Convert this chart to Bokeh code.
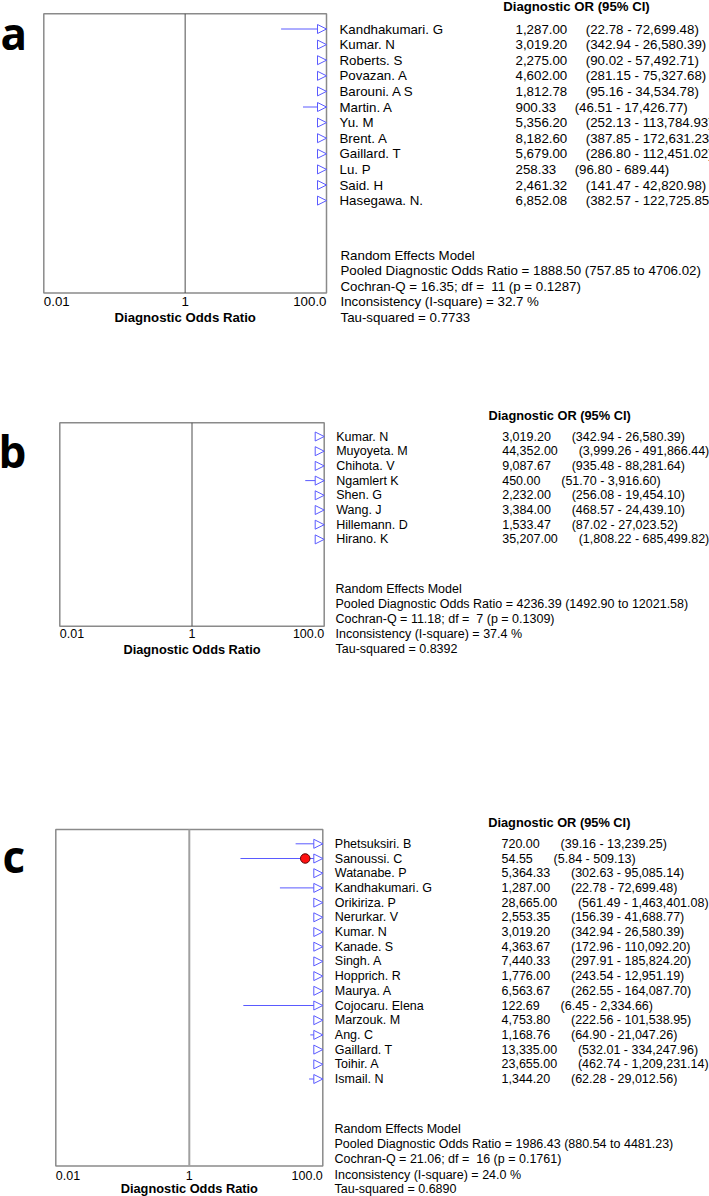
import numpy as np
from bokeh.plotting import figure
from bokeh.layouts import column
from bokeh.models import ColumnDataSource, LabelSet, Label, Arrow, NormalHead, Range1d
from bokeh.core.properties import value
from bokeh.embed import file_html
from bokeh.resources import INLINE

# ---------------- data ----------------
XMIN, XMAX = 0.01, 100.0
tick_values = [0.01, 1.0, 100.0]
tick_labels = ["0.01", "1", "100.0"]
axis_title = "Diagnostic Odds Ratio"
col_header = "Diagnostic OR (95% CI)"

a_names = ["Kandhakumari. G", "Kumar. N", "Roberts. S", "Povazan. A", "Barouni. A S", "Martin. A",
           "Yu. M", "Brent. A", "Gaillard. T", "Lu. P", "Said. H", "Hasegawa. N."]
a_or = [1287.00, 3019.20, 2275.00, 4602.00, 1812.78, 900.33, 5356.20, 8182.60, 5679.00, 258.33, 2461.32, 6852.08]
a_lo = [22.78, 342.94, 90.02, 281.15, 95.16, 46.51, 252.13, 387.85, 286.80, 96.80, 141.47, 382.57]
a_hi = [72699.48, 26580.39, 57492.71, 75327.68, 34534.78, 17426.77, 113784.93, 172631.23, 112451.02,
        689.44, 42820.98, 122725.85]
a_stats = ["Random Effects Model",
           "Pooled Diagnostic Odds Ratio = 1888.50 (757.85 to 4706.02)",
           "Cochran-Q = 16.35; df =\u00a0 11 (p = 0.1287)",
           "Inconsistency (I-square) = 32.7 %",
           "Tau-squared = 0.7733"]

b_names = ["Kumar. N", "Muyoyeta. M", "Chihota. V", "Ngamlert K", "Shen. G", "Wang. J", "Hillemann. D", "Hirano. K"]
b_or = [3019.20, 44352.00, 9087.67, 450.00, 2232.00, 3384.00, 1533.47, 35207.00]
b_lo = [342.94, 3999.26, 935.48, 51.70, 256.08, 468.57, 87.02, 1808.22]
b_hi = [26580.39, 491866.44, 88281.64, 3916.60, 19454.10, 24439.10, 27023.52, 685499.82]
b_stats = ["Random Effects Model",
           "Pooled Diagnostic Odds Ratio = 4236.39 (1492.90 to 12021.58)",
           "Cochran-Q = 11.18; df =\u00a0 7 (p = 0.1309)",
           "Inconsistency (I-square) = 37.4 %",
           "Tau-squared = 0.8392"]

c_names = ["Phetsuksiri. B", "Sanoussi. C", "Watanabe. P", "Kandhakumari. G", "Orikiriza. P", "Nerurkar. V",
           "Kumar. N", "Kanade. S", "Singh. A", "Hopprich. R", "Maurya. A", "Cojocaru. Elena", "Marzouk. M",
           "Ang. C", "Gaillard. T", "Toihir. A", "Ismail. N"]
c_or = [720.00, 54.55, 5364.33, 1287.00, 28665.00, 2553.35, 3019.20, 4363.67, 7440.33, 1776.00, 6563.67,
        122.69, 4753.80, 1168.76, 13335.00, 23655.00, 1344.20]
c_lo = [39.16, 5.84, 302.63, 22.78, 561.49, 156.39, 342.94, 172.96, 297.91, 243.54, 262.55, 6.45, 222.56,
        64.90, 532.01, 462.74, 62.28]
c_hi = [13239.25, 509.13, 95085.14, 72699.48, 1463401.08, 41688.77, 26580.39, 110092.20, 185824.20,
        12951.19, 164087.70, 2334.66, 101538.95, 21047.26, 334247.96, 1209231.14, 29012.56]
c_stats = ["Random Effects Model",
           "Pooled Diagnostic Odds Ratio = 1986.43 (880.54 to 4481.23)",
           "Cochran-Q = 21.06; df =\u00a0 16 (p = 0.1761)",
           "Inconsistency (I-square) = 24.0 %",
           "Tau-squared = 0.6890"]

# ---------------- style / layout ----------------
FONT = "Liberation Sans"
BLUE = "#5a5aff"
INK = "#000000"
W = 709


def fmt(v):
    return f"{v:,.2f}"


def panel(letter, names, ors, los, his, stats, L):
    n = len(names)
    rows = np.arange(n)
    top, H = L["top"], L["h"]
    Lx, Rx = L["L"], L["R"]
    dy = L["dy"]

    def ry(py):  # page y (px) -> row units
        return (py - L["row0"]) / dy

    k = 4.0 / (Rx - Lx)  # decades per px
    x_range = Range1d(10 ** (-2 - Lx * k), 10 ** (2 + (W - Rx) * k))
    y_range = Range1d(ry(top + H), ry(top))
    p = figure(width=W, height=H, x_axis_type="log", x_range=x_range, y_range=y_range,
               x_axis_location=None, y_axis_location=None, toolbar_location=None,
               output_backend="svg", min_border=0)
    p.min_border_left = p.min_border_right = p.min_border_top = p.min_border_bottom = 0
    p.grid.visible = False
    p.outline_line_color = None
    p.background_fill_color = "white"
    p.border_fill_color = "white"

    yt, yb = ry(L["T"]), ry(L["B"])
    # plot box
    p.quad(left=[XMIN], right=[XMAX], top=[yt], bottom=[yb], fill_color=None,
           line_color="#8a8a8a", line_width=1.5)
    # line of no effect
    p.segment(x0=[1.0], x1=[1.0], y0=[yt], y1=[yb], line_color=L["vcol"], line_width=L["vw"])

    los_a, his_a, ors_a = np.array(los), np.array(his), np.array(ors)
    src = ColumnDataSource(dict(row=rows, lo=np.clip(los_a, XMIN, XMAX), hi=np.clip(his_a, XMIN, XMAX)))
    p.segment(x0="lo", y0="row", x1="hi", y1="row", source=src, line_color=BLUE, line_width=1)

    inside = (ors_a >= XMIN) & (ors_a <= XMAX)
    if inside.any():
        p.scatter(x=ors_a[inside], y=rows[inside], marker="circle", size=9.5,
                  fill_color="#ff1010", line_color="#5a0000", line_width=1)

    over = his_a > XMAX
    asrc = ColumnDataSource(dict(xs=np.full(over.sum(), XMIN), xe=np.minimum(his_a[over], XMAX),
                                 y=rows[over]))
    p.add_layout(Arrow(x_start="xs", y_start="y", x_end="xe", y_end="y", source=asrc, line_alpha=0,
                       end=NormalHead(size=9, fill_color="white", line_color=BLUE, line_width=1)))

    fs = L["fs"]
    gap = "\u00a0" * L["gap"]
    txt = [f"{fmt(o)}{gap}({fmt(l)} - {fmt(h)})" for o, l, h in zip(ors, los, his)]
    tsrc = ColumnDataSource(dict(row=rows, name=names, txt=txt))
    common = dict(text_baseline="middle", text_align="left", text_font=value(FONT),
                  text_font_size=value(f"{fs}px"), text_color=INK)
    p.add_layout(LabelSet(x=XMAX, y="row", text="name", source=tsrc, x_offset=L["name_x"] - Rx, **common))
    p.add_layout(LabelSet(x=XMAX, y="row", text="txt", source=tsrc, x_offset=L["val_x"] - Rx, **common))

    p.add_layout(Label(x=XMAX, y=ry(L["head_y"]), x_offset=L["head_x"] - Rx, text=col_header,
                       text_font=FONT, text_font_style="bold", text_font_size=f"{L['bfs']}px",
                       text_baseline="middle", text_align="left", text_color=INK))
    for kk, line in enumerate(stats):
        p.add_layout(Label(x=XMAX, y=ry(L["stat_y"][kk]), x_offset=L["stat_x"] - Rx, text=line,
                           text_font=FONT, text_font_size=f"{fs}px", text_color=INK,
                           text_baseline="middle", text_align="left"))
    for t, lab, al in zip(tick_values, tick_labels, ["left", "center", "right"]):
        p.add_layout(Label(x=t, y=ry(L["tick_y"]), text=lab, text_font=FONT, text_color=INK,
                           text_font_size=f"{fs}px", text_baseline="middle", text_align=al))
    p.add_layout(Label(x=1.0, y=ry(L["title_y"]), text=axis_title, text_font=FONT, text_color=INK,
                       text_font_style="bold", text_font_size=f"{L['bfs']}px",
                       text_baseline="middle", text_align="center"))
    p.add_layout(Label(x=XMIN, y=ry(L["let_y"]), x_offset=L["let_x"] - Lx, text=letter,
                       text_font="Open Sans", text_font_style="bold", text_font_size="44px",
                       text_color=INK, text_baseline="alphabetic", text_align="left"))
    return p


LA = dict(top=0, h=360, L=43.3, R=326, T=13.3, B=292.5, row0=28.5, dy=15.6, fs=13.3, bfs=13.2, gap=5,
          name_x=339, val_x=515, head_x=502.7, head_y=5.5, stat_x=340,
          stat_y=[254.6, 270.2, 285.8, 301.4, 317.0], tick_y=301.0, title_y=317.0,
          let_x=0, let_y=32, vcol="#4d4d4d", vw=1)
LB = dict(top=360, h=380, L=59.3, R=323.7, T=422.3, B=625.7, row0=436, dy=14.7, fs=12.5, bfs=12.8, gap=6,
          name_x=335.7, val_x=501.7, head_x=488, head_y=415, stat_x=335,
          stat_y=[588, 603, 618.5, 633, 648], tick_y=633, title_y=649,
          let_x=-2, let_y=450, vcol="#4d4d4d", vw=1)
LC = dict(top=740, h=456, L=55.3, R=322.3, T=829, B=1165.5, row0=843.3, dy=14.7, fs=12.5, bfs=12.8, gap=6,
          name_x=334.3, val_x=501, head_x=487.7, head_y=821.7, stat_x=334,
          stat_y=[1128.3, 1143.3, 1158.3, 1174, 1188.3], tick_y=1174.5, title_y=1188,
          let_x=2, let_y=855, vcol="#a0a0a0", vw=2)

pa = panel("a", a_names, a_or, a_lo, a_hi, a_stats, LA)
pb = panel("b", b_names, b_or, b_lo, b_hi, b_stats, LB)
pc = panel("c", c_names, c_or, c_lo, c_hi, c_stats, LC)

layout = column(pa, pb, pc, spacing=0)
open("out.html", "w").write(file_html(layout, INLINE))
